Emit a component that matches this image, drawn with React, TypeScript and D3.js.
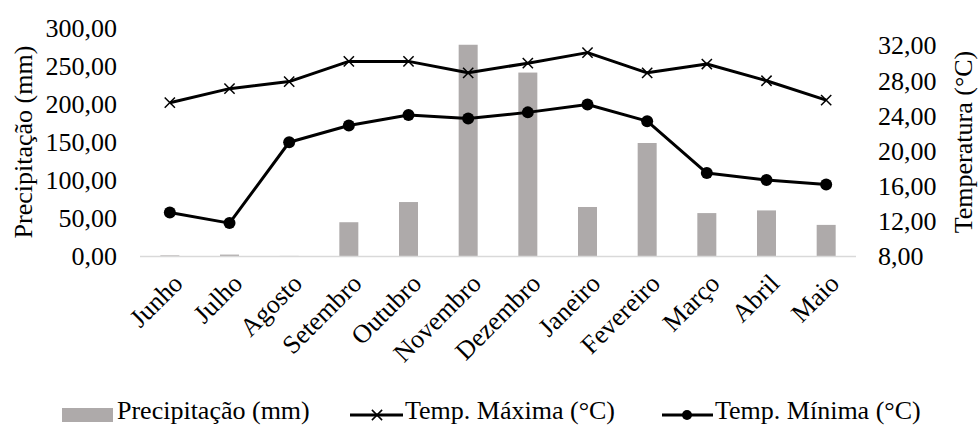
import React, { useRef, useEffect } from 'react';
import * as d3 from 'd3';

const MONTHS = ['Junho', 'Julho', 'Agosto', 'Setembro', 'Outubro', 'Novembro', 'Dezembro', 'Janeiro', 'Fevereiro', 'Março', 'Abril', 'Maio'];
const PRECIP = [1.5, 2.5, 0.8, 45, 71.5, 278, 241.5, 65, 149, 57, 60.5, 41.5];
const TEMP_MAX = [25.5, 27.1, 27.9, 30.2, 30.2, 28.9, 30.0, 31.2, 28.9, 29.9, 28.0, 25.8];
const TEMP_MIN = [13.0, 11.8, 21.0, 22.9, 24.1, 23.7, 24.4, 25.3, 23.4, 17.5, 16.7, 16.2];
const PRECIP_TICKS = [0, 50, 100, 150, 200, 250, 300];
const TEMP_TICKS = [8, 12, 16, 20, 24, 28, 32];

const FONT = 'Liberation Serif, DejaVu Serif, serif';
const BAR_COLOR = '#aeaaaa';

export default function App() {
    const svgRef = useRef<SVGSVGElement>(null);
    const width = 979;
    const height = 425;
    const margin = { top: 28, right: 123, bottom: 168.5, left: 140 };

    useEffect(() => {
        const svg = d3.select(svgRef.current);
        svg.selectAll('*').remove();

        const x = d3.scaleBand<string>()
            .domain(MONTHS)
            .range([margin.left, width - margin.right])
            .padding(0);
        const bottom = height - margin.bottom;
        const yL = d3.scaleLinear().domain([0, 300]).range([bottom, margin.top]);
        const yR = d3.scaleLinear().domain([8, 34]).range([bottom, margin.top]);
        const cx = (m: string) => (x(m) as number) + x.bandwidth() / 2;
        const barW = 19;
        const fmt = (d: number) => d3.format('.2f')(d).replace('.', ',');

        // bars
        svg.append('g')
            .selectAll('rect')
            .data(PRECIP)
            .join('rect')
            .attr('x', (d, i) => cx(MONTHS[i]) - barW / 2)
            .attr('y', d => yL(d))
            .attr('width', barW)
            .attr('height', d => bottom - yL(d))
            .attr('fill', BAR_COLOR);

        // category axis line
        svg.append('line')
            .attr('x1', margin.left)
            .attr('x2', width - margin.right)
            .attr('y1', bottom)
            .attr('y2', bottom)
            .attr('stroke', '#d9d9d9')
            .attr('stroke-width', 1.5);

        // left axis
        svg.append('g')
            .attr('transform', `translate(117,0)`)
            .call(d3.axisLeft(yL).tickValues(PRECIP_TICKS).tickSize(0).tickPadding(0)
                .tickFormat(d => fmt(d as number)))
            .call(g => g.select('.domain').remove())
            .call(g => g.attr('font-family', null).attr('font-size', null))
            .call(g => g.selectAll('.tick text').attr('fill', '#000'));

        // right axis
        svg.append('g')
            .attr('transform', `translate(878,0)`)
            .call(d3.axisRight(yR).tickValues(TEMP_TICKS).tickSize(0).tickPadding(0)
                .tickFormat(d => fmt(d as number)))
            .call(g => g.select('.domain').remove())
            .call(g => g.attr('font-family', null).attr('font-size', null))
            .call(g => g.selectAll('.tick text').attr('fill', '#000'));

        // axis titles
        svg.append('text')
            .attr('transform', `translate(32,142) rotate(-90)`)
            .attr('text-anchor', 'middle')
            .text('Precipitação (mm)');
        svg.append('text')
            .attr('transform', `translate(972,142) rotate(-90)`)
            .attr('text-anchor', 'middle')
            .text('Temperatura (°C)');

        // month labels
        svg.append('g')
            .selectAll('text')
            .data(MONTHS)
            .join('text')
            .attr('transform', d => `translate(${cx(d) + 8},${bottom + 22}) rotate(-45)`)
            .attr('text-anchor', 'end')
            .attr('dy', '0.35em')
            .text(d => d);

        const line = d3.line<number>()
            .x((d, i) => cx(MONTHS[i]))
            .y(d => yR(d));

        // max temperature
        svg.append('path')
            .datum(TEMP_MAX)
            .attr('fill', 'none')
            .attr('stroke', '#000')
            .attr('stroke-width', 3)
            .attr('stroke-linejoin', 'round')
            .attr('d', line);
        const cross = d3.symbol().type(d3.symbolX).size(70);
        svg.append('g')
            .selectAll('path')
            .data(TEMP_MAX)
            .join('path')
            .attr('transform', (d, i) => `translate(${cx(MONTHS[i])},${yR(d)})`)
            .attr('d', cross() as string)
            .attr('fill', 'none')
            .attr('stroke', '#000')
            .attr('stroke-width', 1.5);

        // min temperature
        svg.append('path')
            .datum(TEMP_MIN)
            .attr('fill', 'none')
            .attr('stroke', '#000')
            .attr('stroke-width', 3)
            .attr('stroke-linejoin', 'round')
            .attr('d', line);
        svg.append('g')
            .selectAll('circle')
            .data(TEMP_MIN)
            .join('circle')
            .attr('cx', (d, i) => cx(MONTHS[i]))
            .attr('cy', d => yR(d))
            .attr('r', 6)
            .attr('fill', '#000');

        // legend
        const legend = svg.append('g');
        const ly = 415;
        legend.append('rect').attr('x', 62).attr('y', 408).attr('width', 51).attr('height', 14).attr('fill', BAR_COLOR);
        legend.append('text').attr('x', 117).attr('y', ly + 4).text('Precipitação (mm)');

        legend.append('line').attr('x1', 350).attr('x2', 403).attr('y1', ly).attr('y2', ly).attr('stroke', '#000').attr('stroke-width', 3);
        legend.append('path').attr('transform', `translate(377,${ly})`).attr('d', cross() as string)
            .attr('fill', 'none').attr('stroke', '#000').attr('stroke-width', 1.5);
        legend.append('text').attr('x', 405).attr('y', ly + 4).text('Temp. Máxima (°C)');

        legend.append('line').attr('x1', 662).attr('x2', 713).attr('y1', ly).attr('y2', ly).attr('stroke', '#000').attr('stroke-width', 3);
        legend.append('circle').attr('cx', 687).attr('cy', ly).attr('r', 5).attr('fill', '#000');
        legend.append('text').attr('x', 715).attr('y', ly + 4).text('Temp. Mínima (°C)');
    }, []);

    return (
        <svg
            ref={svgRef}
            width={width}
            height={height}
            style={{ position: 'absolute', left: 0, top: 0, background: '#fff', fontFamily: FONT, fontSize: 26 }}
        />
    );
}
